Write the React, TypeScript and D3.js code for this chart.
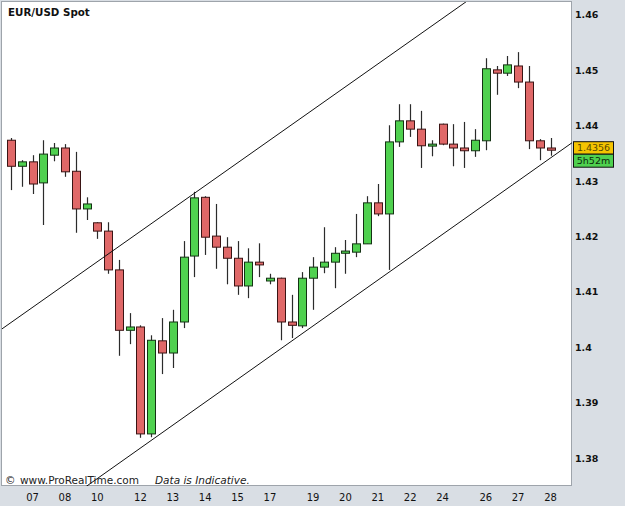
import React from 'react';
import * as d3 from 'd3';

// 8-hour candles, EUR/USD
const opens = [1.4374, 1.4327, 1.4335, 1.4297, 1.4347, 1.4360, 1.4318, 1.4250, 1.4225, 1.4210,
  1.4140, 1.4031, 1.4037, 1.3844, 1.4012, 1.3990, 1.4046, 1.4165, 1.4271, 1.4201,
  1.4181, 1.4161, 1.4111, 1.4154, 1.4120, 1.4125, 1.4046, 1.4039, 1.4125, 1.4145,
  1.4154, 1.4170, 1.4172, 1.4187, 1.4261, 1.4241, 1.4371, 1.4409, 1.4394, 1.4364,
  1.4403, 1.4367, 1.4360, 1.4355, 1.4373, 1.4501, 1.4495, 1.4508, 1.4479, 1.4373, 1.4360];
const highs = [1.4378, 1.4338, 1.4347, 1.4374, 1.4369, 1.4367, 1.4353, 1.4271, 1.4226, 1.4226,
  1.4158, 1.4062, 1.4040, 1.4022, 1.4053, 1.4068, 1.4192, 1.4281, 1.4273, 1.4259,
  1.4199, 1.4192, 1.4179, 1.4188, 1.4133, 1.4126, 1.4095, 1.4136, 1.4163, 1.4217,
  1.4181, 1.4194, 1.4241, 1.4273, 1.4295, 1.4401, 1.4439, 1.4439, 1.4427, 1.4374,
  1.4404, 1.4403, 1.4407, 1.4394, 1.4522, 1.4508, 1.4526, 1.4533, 1.4508, 1.4376, 1.4378];
const lows = [1.4284, 1.4290, 1.4277, 1.4221, 1.4336, 1.4308, 1.4207, 1.4230, 1.4196, 1.4133,
  1.3985, 1.4006, 1.3837, 1.3838, 1.3952, 1.3963, 1.4035, 1.4127, 1.4167, 1.4142,
  1.4114, 1.4095, 1.4089, 1.4127, 1.4114, 1.4013, 1.4017, 1.4035, 1.4068, 1.4134,
  1.4107, 1.4133, 1.4163, 1.4187, 1.4237, 1.4140, 1.4362, 1.4380, 1.4324, 1.4345,
  1.4365, 1.4327, 1.4324, 1.4344, 1.4356, 1.4456, 1.4490, 1.4468, 1.4358, 1.4338, 1.4346];
const closes = [1.4327, 1.4335, 1.4295, 1.4349, 1.4360, 1.4317, 1.4250, 1.4259, 1.4210, 1.4140,
  1.4031, 1.4037, 1.3844, 1.4013, 1.3990, 1.4046, 1.4163, 1.4270, 1.4199, 1.4181,
  1.4161, 1.4111, 1.4154, 1.4149, 1.4125, 1.4046, 1.4040, 1.4125, 1.4145, 1.4154,
  1.4170, 1.4174, 1.4187, 1.4261, 1.4241, 1.4371, 1.4409, 1.4394, 1.4364, 1.4367,
  1.4367, 1.4360, 1.4355, 1.4374, 1.4503, 1.4495, 1.4510, 1.4479, 1.4373, 1.4360, 1.4356];

const dayLabels = ['07', '08', '10', '12', '13', '14', '15', '17', '19', '20', '21', '22', '24', '26', '27', '28'];
const dayIndex = [2, 5, 8, 12, 15, 18, 21, 24, 28, 31, 34, 37, 40, 44, 47, 50];

const priceTicks = [1.38, 1.39, 1.4, 1.41, 1.42, 1.43, 1.44, 1.45, 1.46];

// trend channel anchors: [candle index, price]
const upperLine = [[0, 1.4045], [40, 1.4594]];
const lowerLine = [[10, 1.3791], [50, 1.4342]];

const lastPrice = 1.4356;
const timeLeft = '5h52m';

const W = 625;
const H = 506;
const plot = { left: 2, top: 2, right: 572, bottom: 486 };

export default function App() {
  const x = d3.scaleLinear().domain([0, opens.length - 1]).range([11, 550.5]);
  const y = d3.scaleLinear().domain([1.38, 1.46]).range([458.3, 15]);
  const bodyW = 8;

  const extend = (pts: number[][]) => {
    const [a, b] = pts;
    const slope = (b[1] - a[1]) / (b[0] - a[0]);
    const k0 = x.invert(plot.left - 20);
    const k1 = x.invert(plot.right + 20);
    return [
      [x(k0), y(a[1] + slope * (k0 - a[0]))],
      [x(k1), y(a[1] + slope * (k1 - a[0]))],
    ];
  };
  const line = d3.line();

  const font = '"DejaVu Sans", Verdana, sans-serif';

  return (
    <svg width={W} height={H} style={{ position: 'absolute', left: 0, top: 0 }} fontFamily={font}>
      <defs>
        <clipPath id="plotClip">
          <rect x={plot.left} y={plot.top} width={plot.right - plot.left} height={plot.bottom - plot.top} />
        </clipPath>
      </defs>
      <rect x={0} y={0} width={W} height={H} fill="#d9dee4" />
      <rect x={plot.left - 0.5} y={plot.top - 0.5} width={plot.right - plot.left} height={plot.bottom - plot.top}
        fill="#ffffff" stroke="#9ea4ab" strokeWidth={1} />

      <g clipPath="url(#plotClip)">
        {opens.map((o, i) => {
          const c = closes[i];
          const up = c >= o;
          const cx = Math.round(x(i)) + 0.5;
          const yTop = y(Math.max(o, c));
          const yBot = y(Math.min(o, c));
          const h = Math.max(2, yBot - yTop);
          return (
            <g key={i}>
              <line x1={cx} x2={cx} y1={y(highs[i])} y2={y(lows[i])} stroke="#2b2b2b" strokeWidth={1.2} />
              <rect x={cx - bodyW / 2} y={yTop} width={bodyW} height={h}
                fill={up ? '#4fd14f' : '#e06868'} stroke={up ? '#143214' : '#3a1414'} strokeWidth={1} />
            </g>
          );
        })}
        {[upperLine, lowerLine].map((pts, i) => (
          <path key={i} d={line(extend(pts) as [number, number][]) || ''} fill="none" stroke="#111" strokeWidth={1} />
        ))}
        <text x={5} y={484} fontSize={10.5} fill="#222">
          <tspan>©</tspan>
          <tspan x={20}>www.ProRealTime.com</tspan>
          <tspan x={155} fontStyle="italic">Data is Indicative.</tspan>
        </text>
      </g>

      <text x={8} y={16} fontSize={10.3} fontWeight="bold" fill="#111">EUR/USD Spot</text>

      {priceTicks.map((t) => (
        <text key={t} x={575} y={y(t)} dy="0.35em" fontSize={9.5} fontWeight="bold" fill="#111">
          {d3.format('')(t)}
        </text>
      ))}

      {dayLabels.map((d, i) => (
        <text key={d} x={x(dayIndex[i])} y={497} dy="0.35em" textAnchor="middle" fontSize={10} fill="#111">{d}</text>
      ))}

      <g>
        <rect x={573.5} y={y(lastPrice) - 8.5} width={40} height={12.5} fill="#f5c400" stroke="#111" strokeWidth={1} />
        <text x={593.5} y={y(lastPrice) - 2.2} dy="0.35em" textAnchor="middle" fontSize={9.5} fill="#5a4a00">
          {lastPrice.toFixed(4)}
        </text>
        <rect x={573.5} y={y(lastPrice) + 4} width={40} height={13} fill="#4fd14f" stroke="#111" strokeWidth={1} />
        <text x={593.5} y={y(lastPrice) + 10.5} dy="0.35em" textAnchor="middle" fontSize={9.5} fill="#0c2a0c">
          {timeLeft}
        </text>
      </g>
    </svg>
  );
}
